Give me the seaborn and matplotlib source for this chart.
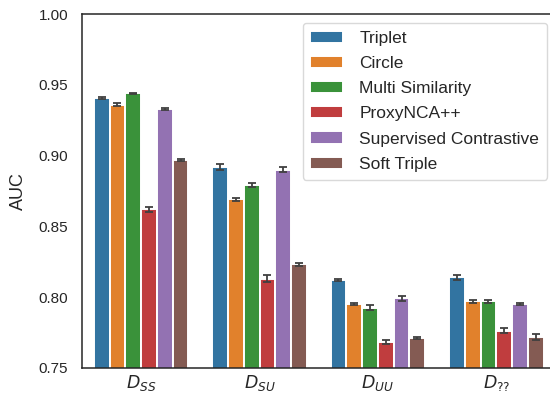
import matplotlib
matplotlib.use("Agg")
import matplotlib.pyplot as plt
import seaborn as sns
import pandas as pd
import numpy as np

# Evaluation splits and methods
splits = [r"$D_{SS}$", r"$D_{SU}$", r"$D_{UU}$", r"$D_{??}$"]
methods = ["Triplet", "Circle", "Multi Similarity", "ProxyNCA++",
           "Supervised Contrastive", "Soft Triple"]

# Mean AUC per method, one value per split
triplet = [0.941, 0.892, 0.812, 0.814]
circle = [0.936, 0.869, 0.795, 0.797]
multi_similarity = [0.944, 0.879, 0.7925, 0.797]
proxy_nca = [0.862, 0.813, 0.768, 0.776]
sup_con = [0.933, 0.890, 0.799, 0.795]
soft_triple = [0.897, 0.823, 0.771, 0.7715]

# Standard deviations (error bar half-lengths)
triplet_err = [0.0007, 0.0018, 0.0008, 0.0017]
circle_err = [0.0011, 0.0012, 0.0008, 0.0010]
multi_similarity_err = [0.0005, 0.0013, 0.0015, 0.0010]
proxy_nca_err = [0.0018, 0.0025, 0.0013, 0.0018]
sup_con_err = [0.0009, 0.0018, 0.0015, 0.0009]
soft_triple_err = [0.0008, 0.0012, 0.0007, 0.0020]

means = [triplet, circle, multi_similarity, proxy_nca, sup_con, soft_triple]
errs = [triplet_err, circle_err, multi_similarity_err, proxy_nca_err,
        sup_con_err, soft_triple_err]

rows = []
for m, vals in zip(methods, means):
    for s, v in zip(splits, vals):
        rows.append({"split": s, "method": m, "AUC": v})
df = pd.DataFrame(rows)

sns.set_theme(style="white")
plt.rcParams["font.family"] = ["Liberation Sans", "DejaVu Sans"]
plt.rcParams["mathtext.fontset"] = "dejavusans"

fig = plt.figure(figsize=(5.5, 3.96), dpi=100)
ax = fig.add_axes([0.149, 0.0715, 0.861, 0.8924])

sns.barplot(data=df, x="split", y="AUC", hue="method", order=splits,
            hue_order=methods, palette="tab10", errorbar=None,
            edgecolor="white", linewidth=1.4, ax=ax)

# Error bars placed at the centre of each bar
for container, err in zip(ax.containers, errs):
    xs = [p.get_x() + p.get_width() / 2 for p in container.patches]
    ys = [p.get_height() for p in container.patches]
    ax.errorbar(xs, ys, yerr=err, fmt="none", ecolor="#404040",
                elinewidth=1.3, capsize=3, capthick=1.3, zorder=5)

ax.set_ylim(0.75, 1.0)
ax.set_xlim(-0.5, 3.5)
yticks = np.arange(0.75, 1.0001, 0.05)
ax.set_yticks(yticks)
ax.set_yticklabels([f"{t:.2f}" for t in yticks], fontsize=11)
ax.tick_params(axis="y", length=0, pad=10)
ax.tick_params(axis="x", length=0, labelsize=12.5, pad=4)
ax.set_xlabel("")
ax.set_ylabel("AUC", fontsize=13, labelpad=8)

for side in ["left", "bottom", "top"]:
    ax.spines[side].set_color("#262626")
    ax.spines[side].set_linewidth(1.1)
ax.spines["right"].set_visible(False)

leg = ax.legend(loc="upper right", bbox_to_anchor=(0.982, 0.976),
                fontsize=12.5, frameon=True, handlelength=1.9,
                handleheight=0.7, labelspacing=0.58, borderpad=0.45,
                handletextpad=0.92, borderaxespad=0)
leg.get_frame().set_edgecolor("#d0d0d0")

fig.savefig("out.png", dpi=100)
